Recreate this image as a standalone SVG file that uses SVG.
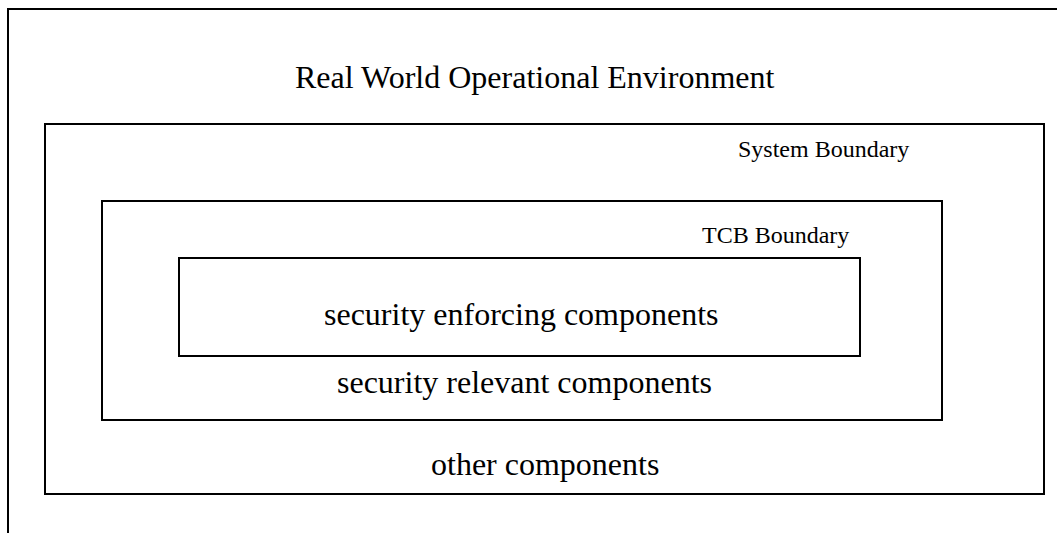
<svg xmlns="http://www.w3.org/2000/svg" width="1057" height="533" viewBox="0 0 1057 533">
<style>
.box{fill:none;stroke:#000;stroke-width:2}
.big{font-family:"Liberation Serif","Times New Roman",serif;font-size:32px;fill:#000}
.small{font-family:"Liberation Serif","Times New Roman",serif;font-size:24px;fill:#000}
</style>
<rect width="1057" height="533" fill="#fff"/>
<g id="environment">
<rect class="box" x="8" y="9" width="1100" height="600"/>
<text class="big" x="295" y="88">Real World Operational Environment</text>
</g>
<g id="system">
<rect class="box" x="45" y="124" width="999" height="370"/>
<text class="small" x="738" y="157">System Boundary</text>
<text class="big" x="431" y="475">other components</text>
</g>
<g id="tcb">
<rect class="box" x="102" y="201" width="840" height="219"/>
<text class="small" x="702" y="243">TCB Boundary</text>
<text class="big" x="337" y="393">security relevant components</text>
</g>
<g id="enforcing">
<rect class="box" x="179" y="258" width="681" height="98"/>
<text class="big" x="324" y="325">security enforcing components</text>
</g>
<g id="connectors"/>
</svg>
